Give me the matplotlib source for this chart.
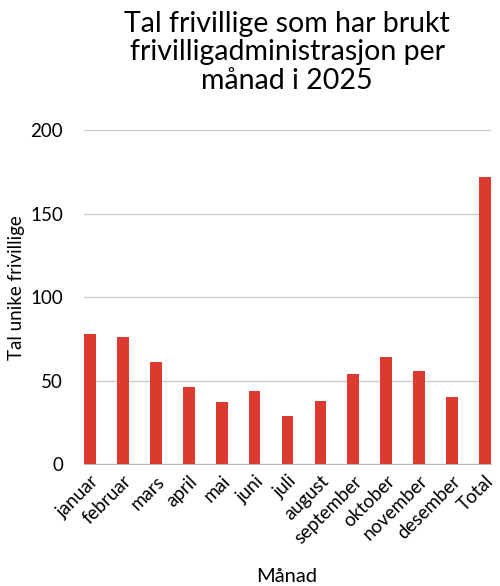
import numpy as np
import matplotlib.pyplot as plt

plt.rcParams['font.family'] = ['Lato', 'DejaVu Sans']

# data
months = ['januar', 'februar', 'mars', 'april', 'mai', 'juni', 'juli',
          'august', 'september', 'oktober', 'november', 'desember', 'Total']
volunteers = [78, 76, 61, 46, 37, 44, 29, 38, 54, 64, 56, 40, 172]
yticks = [0, 50, 100, 150, 200]

fig = plt.figure(figsize=(5, 5.86), dpi=100)
ax = fig.add_axes([0.168, 0.208, 0.814, 0.570])

x = np.arange(len(months))
ax.bar(x, volunteers, width=0.36, color='#dc3a2f', zorder=3)

ax.set_ylim(0, 200)
ax.set_xlim(-0.18, len(months) - 1 + 0.18)
ax.set_yticks(yticks)
ax.grid(axis='y', color='#cccccc', linewidth=1, zorder=0)
for s in ['top', 'right', 'left']:
    ax.spines[s].set_visible(False)
ax.spines['bottom'].set_color('#bbbbbb')
ax.tick_params(axis='both', length=0)
ax.tick_params(axis='y', pad=15, labelsize=13.5)
ax.tick_params(axis='x', pad=6, labelsize=13.5)

ax.set_xticks(x)
ax.set_xticklabels(months, rotation=45, ha='right', rotation_mode='anchor')

# axis titles placed in figure coords
fig.text(0.574, 0.006, 'Månad', fontsize=14.5, ha='center', va='baseline')
fig.text(0.034, 0.51, 'Tal unike frivillige', fontsize=13.5, rotation=90,
         ha='center', va='center')

fig.text(0.574, 0.982, 'Tal frivillige som har brukt\nfrivilligadministrasjon per\nmånad i 2025',
         fontsize=20.5, ha='center', va='top', linespacing=1.12)

fig.savefig('out.png')
